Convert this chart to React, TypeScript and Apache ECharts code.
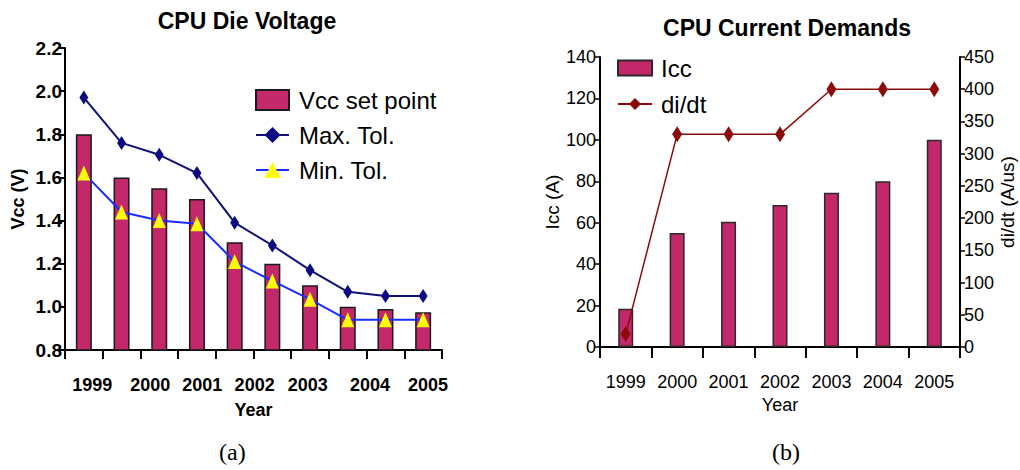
import React, { useEffect, useRef } from "react";
import * as echarts from "echarts";

// ---- Data: (a) CPU Die Voltage ----
const voltageSlots = ["P1", "P2", "P3", "P4", "P5", "P6", "P7", "P8", "P9", "P10"];
const vccSetPoint = [1.8, 1.6, 1.55, 1.5, 1.3, 1.2, 1.1, 1.0, 0.99, 0.975];
const maxTol = [1.97, 1.76, 1.705, 1.62, 1.39, 1.285, 1.17, 1.07, 1.05, 1.05];
const minTol = [1.62, 1.44, 1.4, 1.385, 1.21, 1.12, 1.035, 0.94, 0.94, 0.94];
const voltageYearLabels = ["1999", "2000", "2001", "2002", "2003", "2004", "2005"];
const voltageYearPos = [0.72, 2.26, 3.64, 5.03, 6.44, 8.09, 9.63];

// ---- Data: (b) CPU Current Demands ----
const years = ["1999", "2000", "2001", "2002", "2003", "2004", "2005"];
const icc = [18.5, 55, 60.5, 68.5, 74.5, 80, 100];
const didt = [20, 330, 330, 330, 400, 400, 400];

const FONT = "'Liberation Sans', Arial, Helvetica, sans-serif";
const BAR = "#c3286b";

export default function App() {
  const ref = useRef<HTMLDivElement>(null);
  useEffect(() => {
    document.body.style.margin = "0";
    const chart = echarts.init(ref.current!, null, { renderer: "svg" });
    const axisLineStyle = { color: "#000", width: 2 };
    const option: any = {
      animation: false,
      backgroundColor: "#fff",
      textStyle: { fontFamily: FONT, color: "#000" },
      title: [
        {
          text: "CPU Die Voltage",
          left: 242,
          top: 4,
          textAlign: "center",
          textStyle: { fontFamily: FONT, fontSize: 23, fontWeight: "bold", color: "#000" },
        },
        {
          text: "CPU Current Demands",
          left: 782,
          top: 11,
          textAlign: "center",
          textStyle: { fontFamily: FONT, fontSize: 23, fontWeight: "bold", color: "#000" },
        },
      ],
      legend: [
        {
          left: 250,
          top: 83,
          orient: "vertical",
          itemWidth: 33,
          itemHeight: 20,
          itemGap: 11,
          textStyle: { fontFamily: FONT, fontSize: 24, color: "#000", padding: [0, 0, 0, 5] },
          data: [
            { name: "Vcc set point", icon: "rect" },
            { name: "Max. Tol." },
            { name: "Min. Tol." },
          ],
        },
        {
          left: 612,
          top: 51,
          orient: "vertical",
          itemWidth: 34,
          itemHeight: 15,
          itemGap: 12,
          textStyle: { fontFamily: FONT, fontSize: 24, color: "#000", padding: [0, 0, 0, 4] },
          data: [{ name: "Icc", icon: "rect" }, { name: "di/dt" }],
        },
      ],
      grid: [
        { left: 65, top: 48, width: 377, height: 302 },
        { left: 600, top: 57, width: 360, height: 290 },
      ],
      xAxis: [
        {
          type: "category",
          gridIndex: 0,
          data: voltageSlots,
          boundaryGap: true,
          axisLine: { lineStyle: axisLineStyle },
          axisTick: { show: true, length: 9, lineStyle: { color: "#000", width: 2 } },
          axisLabel: { show: false },
          name: "Year",
          nameLocation: "middle",
          nameGap: 51,
          nameTextStyle: { fontFamily: FONT, fontSize: 18, fontWeight: "bold", color: "#000" },
        },
        {
          type: "value",
          gridIndex: 0,
          min: 0,
          max: 10,
          position: "bottom",
          axisLine: { show: false },
          axisTick: { show: false },
          splitLine: { show: false },
          axisLabel: {
            customValues: voltageYearPos,
            margin: 26,
            fontFamily: FONT,
            fontSize: 18,
            fontWeight: "bold",
            color: "#000",
            formatter: (v: number) => {
              const i = voltageYearPos.findIndex((p) => Math.abs(p - v) < 1e-6);
              return i >= 0 ? voltageYearLabels[i] : "";
            },
          },
        },
        {
          type: "category",
          gridIndex: 1,
          data: years,
          boundaryGap: true,
          axisLine: { lineStyle: axisLineStyle },
          axisTick: { show: true, length: 11, lineStyle: { color: "#000", width: 2 } },
          axisLabel: { interval: 0, margin: 26, fontFamily: FONT, fontSize: 18, color: "#000" },
          name: "Year",
          nameLocation: "middle",
          nameGap: 47,
          nameTextStyle: { fontFamily: FONT, fontSize: 18, color: "#000" },
        },
      ],
      yAxis: [
        {
          type: "value",
          gridIndex: 0,
          min: 0.8,
          max: 2.2,
          interval: 0.2,
          axisLine: { show: true, lineStyle: axisLineStyle },
          axisTick: { show: true, length: 6, lineStyle: { color: "#000", width: 2 } },
          splitLine: { show: false },
          axisLabel: {
            margin: 3,
            fontFamily: FONT,
            fontSize: 19,
            fontWeight: "bold",
            color: "#000",
            formatter: (v: number) => v.toFixed(1),
          },
          name: "Vcc (V)",
          nameLocation: "middle",
          nameGap: 38,
          nameTextStyle: { fontFamily: FONT, fontSize: 18, fontWeight: "bold", color: "#000" },
        },
        {
          type: "value",
          gridIndex: 1,
          min: 0,
          max: 140,
          interval: 20,
          axisLine: { show: true, lineStyle: axisLineStyle },
          axisTick: { show: true, length: 6, lineStyle: { color: "#000", width: 1.5 } },
          splitLine: { show: false },
          axisLabel: { margin: 4, fontFamily: FONT, fontSize: 18, color: "#000" },
          name: "Icc (A)",
          nameLocation: "middle",
          nameGap: 31,
          nameTextStyle: { fontFamily: FONT, fontSize: 19, color: "#000" },
        },
        {
          type: "value",
          gridIndex: 1,
          position: "right",
          min: 0,
          max: 450,
          interval: 50,
          axisLine: { show: true, lineStyle: axisLineStyle },
          axisTick: { show: true, length: 5, lineStyle: { color: "#000", width: 1.5 } },
          splitLine: { show: false },
          axisLabel: { margin: 4, fontFamily: FONT, fontSize: 18, color: "#000" },
          name: "di/dt (A/us)",
          nameLocation: "middle",
          nameRotate: 90,
          nameGap: 38,
          nameTextStyle: { fontFamily: FONT, fontSize: 19, color: "#000" },
        },
      ],
      series: [
        {
          name: "Vcc set point",
          type: "bar",
          xAxisIndex: 0,
          yAxisIndex: 0,
          data: vccSetPoint,
          barWidth: 16,
          itemStyle: { color: BAR, borderColor: "#1a1a1a", borderWidth: 1.5 },
        },
        {
          name: "Max. Tol.",
          type: "line",
          xAxisIndex: 0,
          yAxisIndex: 0,
          data: maxTol,
          symbol: "diamond",
          symbolSize: [9, 14],
          lineStyle: { color: "#10107a", width: 2 },
          itemStyle: { color: "#0c0c80" },
        },
        {
          name: "Min. Tol.",
          type: "line",
          xAxisIndex: 0,
          yAxisIndex: 0,
          data: minTol,
          symbol: "triangle",
          symbolSize: [13, 15],
          lineStyle: { color: "#1a2cff", width: 2 },
          itemStyle: { color: "#ffff00" },
          z: 3,
        },
        {
          name: "Icc",
          type: "bar",
          xAxisIndex: 2,
          yAxisIndex: 1,
          data: icc,
          barWidth: 15,
          itemStyle: { color: BAR, borderColor: "#2a2a2a", borderWidth: 1.5 },
        },
        {
          name: "di/dt",
          type: "line",
          xAxisIndex: 2,
          yAxisIndex: 2,
          data: didt,
          symbol: "diamond",
          symbolSize: [10, 16],
          lineStyle: { color: "#8b0a0a", width: 1.5 },
          itemStyle: { color: "#8b0a0a" },
        },
      ],
      graphic: [
        {
          type: "text",
          left: 233 - 14,
          top: 440,
          style: { text: "(a)", fontFamily: "'Liberation Serif', 'Times New Roman', serif", fontSize: 24, fill: "#000" },
        },
        {
          type: "text",
          left: 786 - 14,
          top: 440,
          style: { text: "(b)", fontFamily: "'Liberation Serif', 'Times New Roman', serif", fontSize: 24, fill: "#000" },
        },
      ],
    };
    chart.setOption(option);
    return () => chart.dispose();
  }, []);
  return (
    <div
      ref={ref}
      style={{ position: "absolute", left: 0, top: 0, width: 1020, height: 470, background: "#fff" }}
    />
  );
}
